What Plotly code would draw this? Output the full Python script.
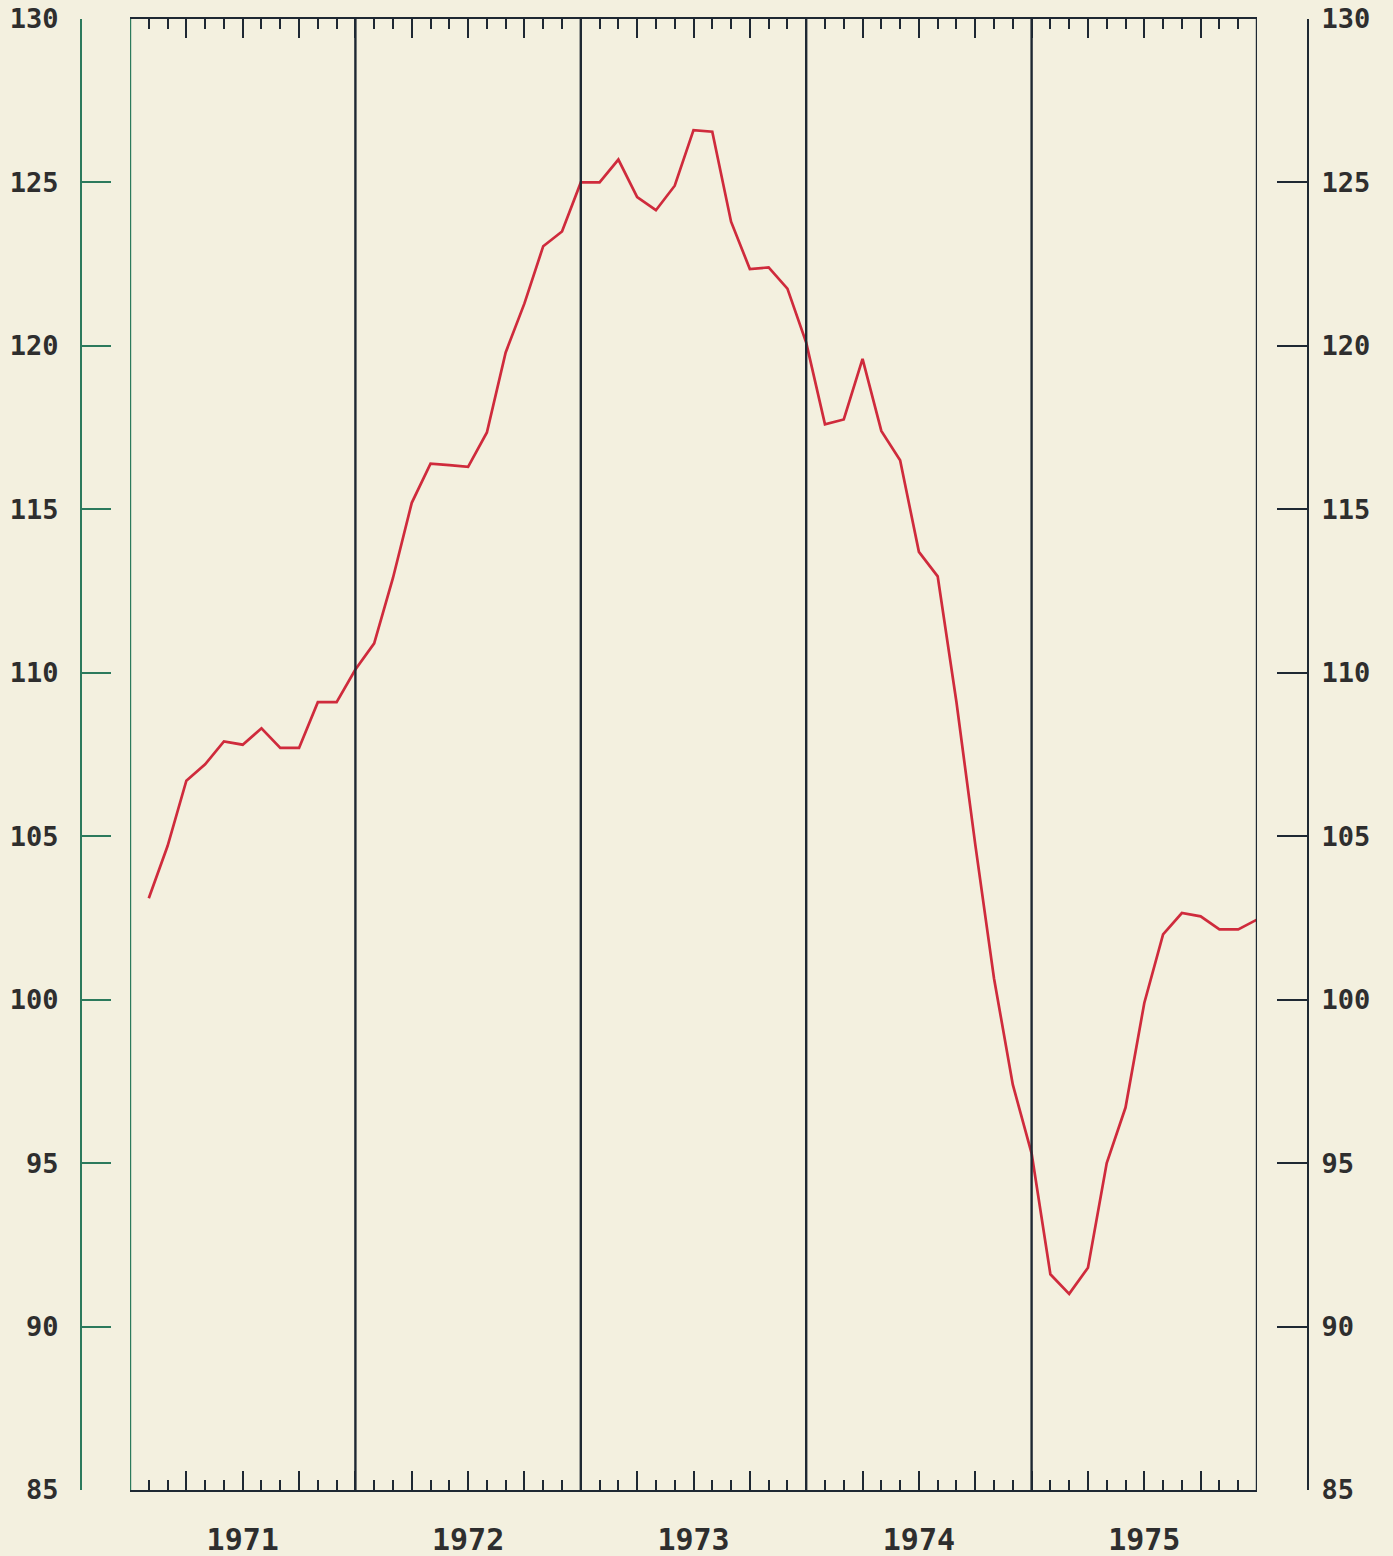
"""Monthly index 1971-1975, plotter-style chart"""
import plotly.graph_objects as go

# monthly values, Jan 1971 .. Dec 1975
years = [1971, 1972, 1973, 1974, 1975]
values_1971 = [103.1, 104.7, 106.7, 107.2, 107.9, 107.8, 108.3, 107.7, 107.7, 109.1, 109.1, 110.1]
values_1972 = [110.9, 112.9, 115.2, 116.4, 116.35, 116.3, 117.35, 119.8, 121.3, 123.05, 123.5, 125.0]
values_1973 = [125.0, 125.7, 124.55, 124.15, 124.9, 126.6, 126.55, 123.8, 122.35, 122.4, 121.75, 120.1]
values_1974 = [117.6, 117.75, 119.6, 117.4, 116.5, 113.7, 112.95, 109.1, 104.75, 100.65, 97.4, 95.3]
values_1975 = [91.6, 91.0, 91.8, 95.0, 96.7, 99.9, 102.0, 102.65, 102.55, 102.15, 102.15, 102.45]

y_ticks = [85, 90, 95, 100, 105, 110, 115, 120, 125, 130]
year_labels = [str(y) for y in years]

values = values_1971 + values_1972 + values_1973 + values_1974 + values_1975
# each value is plotted at the end of its month
months_x = [years[0] + (i + 1) / 12 for i in range(len(values))]
quarter_ticks = [years[0] + q / 4 for q in range(len(years) * 4 + 1)]
year_edges = years + [years[-1] + 1]
label_pos = [y + 0.5 for y in years]

BG = '#f3f0df'
RED = '#cf2b3c'
GREEN = '#2b7a5c'
DARK = '#1e2833'
TXT = '#2e2e2e'
FONT = 'DejaVu Sans Mono'

fig = go.Figure()
fig.add_trace(go.Scatter(x=months_x, y=values, mode='lines',
                         line=dict(color=RED, width=2.7), showlegend=False,
                         xaxis='x', yaxis='y'))

# year separators (the left one is green like the left axis)
for i, yr in enumerate(year_edges):
    fig.add_shape(type='line', xref='x', yref='paper', x0=yr, x1=yr, y0=0, y1=1,
                  line=dict(color=GREEN if i == 0 else DARK, width=2.4))

dom = [(130 - 81) / 1227, (1257 - 81) / 1227]

fig.update_layout(
    width=1393, height=1556,
    margin=dict(l=81, r=85, t=19, b=66),
    paper_bgcolor=BG, plot_bgcolor=BG,
    font=dict(family=FONT, color=TXT),
    xaxis=dict(domain=dom, range=[years[0], years[-1] + 1], anchor='y',
               tickmode='array', tickvals=quarter_ticks, showticklabels=False,
               ticks='inside', ticklen=19, tickwidth=2, tickcolor=DARK,
               minor=dict(dtick=1 / 12, tick0=years[0], ticks='inside', ticklen=10,
                          tickwidth=2, tickcolor=DARK, showgrid=False),
               showline=True, linecolor=DARK, linewidth=2, mirror='ticks',
               showgrid=False, zeroline=False, automargin=False),
    xaxis2=dict(domain=dom, range=[years[0], years[-1] + 1], anchor='y', overlaying='x',
                side='bottom', tickmode='array', tickvals=label_pos, ticktext=year_labels,
                ticks='', showline=False, showgrid=False, zeroline=False,
                ticklabelstandoff=29, automargin=False, ticklabeloverflow='allow',
                tickfont=dict(size=30, color=TXT, weight='bold')),
    yaxis=dict(range=[85, 130], anchor='free', position=0, side='left',
               tickmode='array', tickvals=y_ticks,
               ticks='inside', ticklen=29, tickwidth=2, tickcolor=GREEN,
               showline=True, linecolor=GREEN, linewidth=2,
               showgrid=False, zeroline=False, automargin=False,
               ticklabeloverflow='allow',
               ticklabelstandoff=16, tickfont=dict(size=27, color=TXT, weight='bold')),
    yaxis2=dict(range=[85, 130], anchor='free', position=1, side='right', overlaying='y',
                tickmode='array', tickvals=y_ticks,
                ticks='inside', ticklen=30, tickwidth=2, tickcolor=DARK,
                showline=True, linecolor=DARK, linewidth=2,
                showgrid=False, zeroline=False, automargin=False,
                ticklabeloverflow='allow',
                ticklabelstandoff=7, tickfont=dict(size=27, color=TXT, weight='bold')),
)

# dummy trace so the second x/y axes are drawn
fig.add_trace(go.Scatter(x=[years[0]], y=[y_ticks[0]], mode='markers',
                         marker=dict(opacity=0), showlegend=False, hoverinfo='skip',
                         xaxis='x2', yaxis='y2'))

# drop the default page margin so the figure fills the window exactly
fig.write_html("out.html", config={'displayModeBar': False},
               post_script="document.body.style.margin='0';")
